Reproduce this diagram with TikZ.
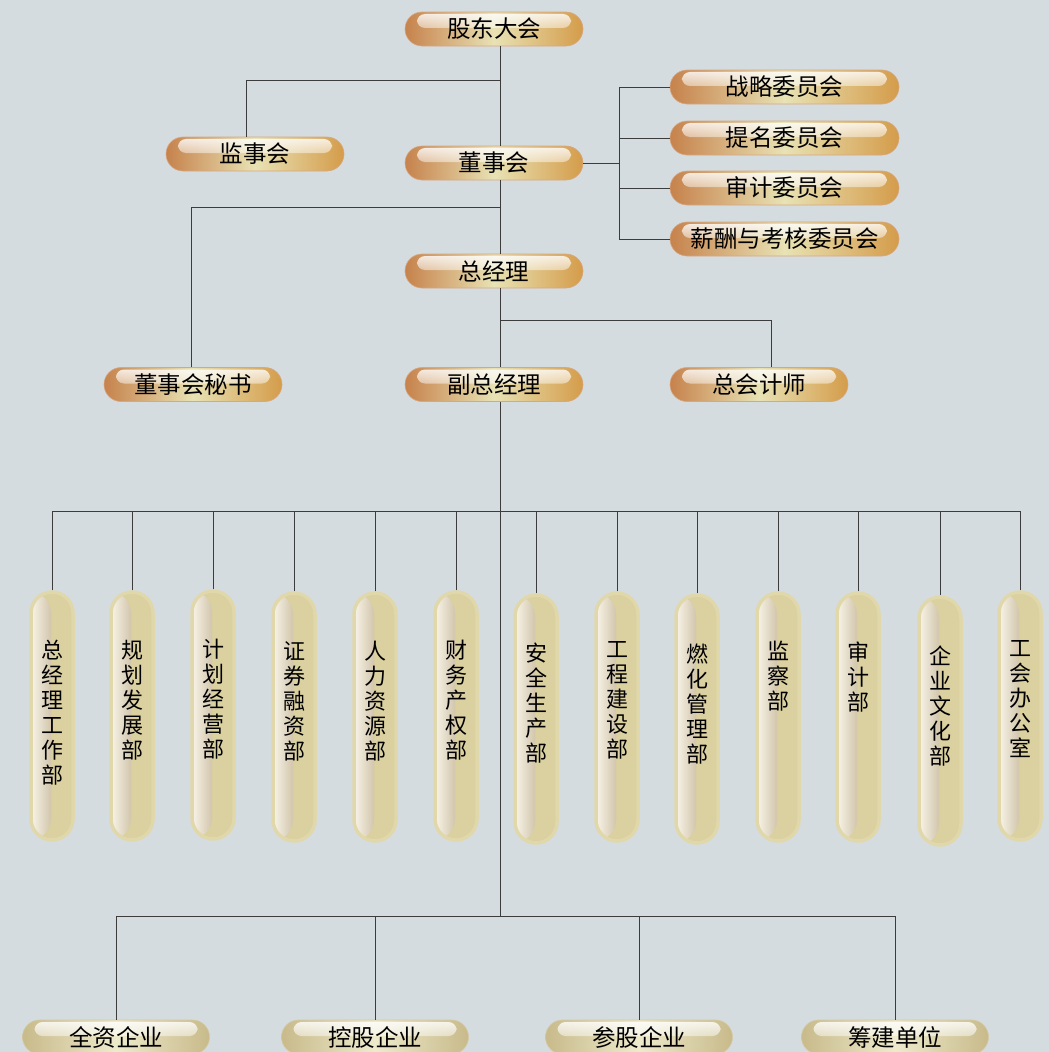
\documentclass[tikz,border=0pt]{standalone}
\usepackage{fontspec}
\newfontfamily\cjk{Noto Sans CJK SC}
\XeTeXlinebreaklocale "zh"
\XeTeXlinebreakskip=0pt plus 1pt
\usetikzlibrary{positioning,fadings}
\definecolor{bgblue}{RGB}{213,220,224}
\definecolor{ornL}{RGB}{198,130,76}
\definecolor{ornM}{RGB}{232,226,180}
\definecolor{ornR}{RGB}{212,156,74}
\definecolor{begE}{RGB}{200,186,138}
\definecolor{begM}{RGB}{238,234,204}
\definecolor{dLite}{RGB}{248,244,232}
\definecolor{dDark}{RGB}{168,146,106}
\definecolor{dRight}{RGB}{218,208,160}
\definecolor{dRim}{RGB}{224,216,170}
\definecolor{linegray}{RGB}{60,60,60}

\begin{document}
\begin{tikzpicture}[x=1pt, y=-1pt,
    conn/.style={linegray, line width=0.9pt},
    gloss/.style={path picture={
        \fill[white, opacity=0.85, path fading=south, rounded corners=8pt]
            ([xshift=12pt,yshift=-2pt]path picture bounding box.north west) rectangle
            ([xshift=-12pt,yshift=-16pt]path picture bounding box.north east);}},
    obox/.style={rounded corners=17pt, minimum width=178pt, minimum height=34pt,
        inner sep=0pt, left color=ornL, right color=ornR, middle color=ornM,
        draw=ornL!70!white, line width=0.6pt, gloss,
        font=\cjk\fontsize{23.5}{26}\selectfont},
    ebox/.style={obox, minimum width=187pt, left color=begE, right color=begE,
        middle color=begM, draw=begE!80!white},
    dbox/.style={rounded corners=21pt, minimum width=42pt, minimum height=248pt,
        inner sep=0pt, fill=dRight, draw=dRim, line width=3.5pt,
        path picture={\shade[left color=dLite, right color=dDark]
            (path picture bounding box.north west) rectangle
            ([xshift=-1pt]path picture bounding box.south);}},
    dtext/.style={inner sep=0pt, text width=24pt, align=center,
        font=\cjk\fontsize{22}{25}\selectfont},
]

%% --- 背景 ---
\useasboundingbox (0,0) rectangle (1049,1052);
\fill[bgblue] (0,0) rectangle (1049,1052);
\clip (0,0) rectangle (1049,1052);

%% --- 辅助坐标 ---
\coordinate (trunk) at (500,0);
\coordinate (cb) at (619,0);
\coordinate (j1) at (500,80);
\coordinate (j2) at (500,207);
\coordinate (j3) at (500,320);
\coordinate (bus) at (0,511);
\coordinate (bus2) at (0,916);

%% --- 上层机构 ---
\node[obox] (gd) at (494,29) {股东大会};
\node[obox] (jsh) at (255,154) {监事会};
\node[obox] (dsh) at (494,163) {董事会};
\node[obox] (zjl) at (494,271) {总经理};
\node[obox] (ms) at (193,384.5) {董事会秘书};
\node[obox] (fzjl) at (494,384.5) {副总经理};
\node[obox] (zkj) at (759,384.5) {总会计师};

%% --- 专门委员会 ---
\foreach \cn/\y/\lab in {1/87/战略委员会, 2/138/提名委员会,
    3/188/审计委员会, 4/239/薪酬与考核委员会}{
    \node[obox, minimum width=229pt] (c\cn) at (784.5,\y) {\lab};
    \draw[conn] (cb |- c\cn.west) -- (c\cn.west);
}
\draw[conn] (cb |- c1.west) -- (cb |- c4.west);
\draw[conn] (dsh.east) -- (dsh.east -| cb);

%% --- 主干连线 ---
\draw[conn] (gd.south -| trunk) -- (dsh.north -| trunk);
\draw[conn] (j1) -| ([xshift=-9pt]jsh.north);
\draw[conn] (dsh.south -| trunk) -- (zjl.north -| trunk);
\draw[conn] (j2) -| ([xshift=-2pt]ms.north);
\draw[conn] (zjl.south -| trunk) -- (fzjl.north -| trunk);
\draw[conn] (j3) -| ([xshift=12pt]zkj.north);
\draw[conn] (fzjl.south -| trunk) -- (trunk |- bus2);

%% --- 职能部门 ---
\foreach \dn/\x/\y/\lab in {1/52/716/总经理工作部, 2/132/716/规划发展部,
    3/213/715/计划经营部, 4/294/717/证券融资部, 5/375/717/人力资源部,
    6/456/716/财务产权部, 7/536/719/安全生产部, 8/617/717/工程建设部,
    9/697/719/燃化管理部, 10/778/717/监察部, 11/858/717/审计部,
    12/940/721/企业文化部, 13/1020/716/工会办公室}{
    \node[dbox] (d\dn) at (\x,\y) {};
    \node[dtext, anchor=north] (t\dn) at ([yshift=-50pt]d\dn.north) {\lab};
    \draw[conn] (d\dn.north) -- (d\dn.north |- bus);
}
\draw[conn] (d1.north |- bus) -- (d13.north |- bus);

%% --- 下属企业 ---
\foreach \en/\x/\lab in {1/116/全资企业, 2/375/控股企业,
    3/639/参股企业, 4/895/筹建单位}{
    \node[ebox] (e\en) at (\x,1037) {\lab};
    \draw[conn] (e\en.north) -- (e\en.north |- bus2);
}
\draw[conn] (e1.north |- bus2) -- (e4.north |- bus2);

\end{tikzpicture}
\end{document}
